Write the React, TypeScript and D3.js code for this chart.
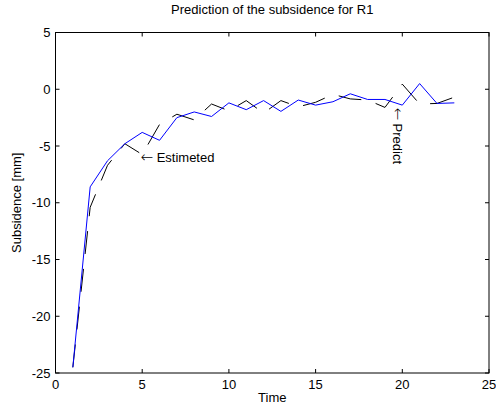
import React, { useEffect } from 'react'
import { scaleLinear, line } from 'd3'

const time = [1, 2, 3, 4, 5, 6, 7, 8, 9, 10, 11, 12, 13, 14, 15, 16, 17, 18, 19, 20, 21, 22, 23]
const predicted = [-24.5, -8.6, -6.3, -4.8, -3.8, -4.5, -2.5, -2.0, -2.4, -1.2, -1.8, -1.0, -1.95, -0.95, -1.4, -1.1, -0.4, -0.9, -0.9, -1.4, 0.5, -1.25, -1.2]
const estimated = [-24.5, -10.4, -6.7, -4.8, -5.75, -3.1, -2.2, -2.7, -1.3, -1.9, -1.0, -2.1, -1.0, -1.55, -1.15, -0.45, -0.85, -0.95, -1.6, 0.45, -1.3, -1.25, -0.7]
const xTicks = [0, 5, 10, 15, 20, 25]
const yTicks = [5, 0, -5, -10, -15, -20, -25]

const width = 496
const height = 410
const margin = { left: 55.5, right: 7, top: 32.5, bottom: 37 }
const font = '"Liberation Sans", Arial, Helvetica, sans-serif'
const arrowFont = '"DejaVu Sans", sans-serif'

const App = () => {
  useEffect(() => {
    document.body.style.margin = '0'
  }, [])

  const x = scaleLinear().domain([0, 25]).range([margin.left, width - margin.right])
  const y = scaleLinear().domain([-25, 5]).range([height - margin.bottom, margin.top])

  const path = line<number>()
    .x((d, i) => x(time[i]))
    .y(d => y(d))

  const x0 = x(0), x1 = x(25), y0 = y(-25), y1 = y(5)
  const tl = 4

  return (
    <svg width={width} height={height} style={{ display: 'block', background: '#fff' }} fontFamily={font} fontSize={13}>
      <rect x={0} y={0} width={width} height={height} fill="#fff" />
      <path d={path(estimated) || ''} fill="none" stroke="#000" strokeWidth={1} strokeDasharray="23 15" />
      <path d={path(predicted) || ''} fill="none" stroke="#0000ff" strokeWidth={1} />

      {/* box */}
      <rect x={x0} y={y1} width={x1 - x0} height={y0 - y1} fill="none" stroke="#000" strokeWidth={1} />

      {xTicks.map(t => (
        <g key={'x' + t}>
          <line x1={x(t)} x2={x(t)} y1={y0} y2={y0 - tl} stroke="#000" />
          <line x1={x(t)} x2={x(t)} y1={y1} y2={y1 + tl} stroke="#000" />
          <text x={x(t)} y={y0 + 16} textAnchor="middle">{t}</text>
        </g>
      ))}
      {yTicks.map(t => (
        <g key={'y' + t}>
          <line x1={x0} x2={x0 + tl} y1={y(t)} y2={y(t)} stroke="#000" />
          <line x1={x1} x2={x1 - tl} y1={y(t)} y2={y(t)} stroke="#000" />
          <text x={x0 - 5} y={y(t)} dy="0.35em" textAnchor="end">{t}</text>
        </g>
      ))}

      <text x={(x0 + x1) / 2} y={14} textAnchor="middle">Prediction of the subsidence for R1</text>
      <text x={(x0 + x1) / 2} y={402} textAnchor="middle">Time</text>
      <text transform={`translate(21, ${(y0 + y1) / 2}) rotate(-90)`} textAnchor="middle">Subsidence [mm]</text>

      {/* annotations */}
      <text x={x(4.9)} y={y(-6)} dy="0.35em">
        <tspan fontFamily={arrowFont} fontSize={15} fontWeight={300}>{'\u2190'}</tspan> Estimeted
      </text>
      <text transform={`translate(${x(19.75)}, ${y(-1.6)}) rotate(90)`} dy="0.35em">
        <tspan fontFamily={arrowFont} fontSize={15} fontWeight={300}>{'\u2190'}</tspan> Predict
      </text>
    </svg>
  )
}

export default App
